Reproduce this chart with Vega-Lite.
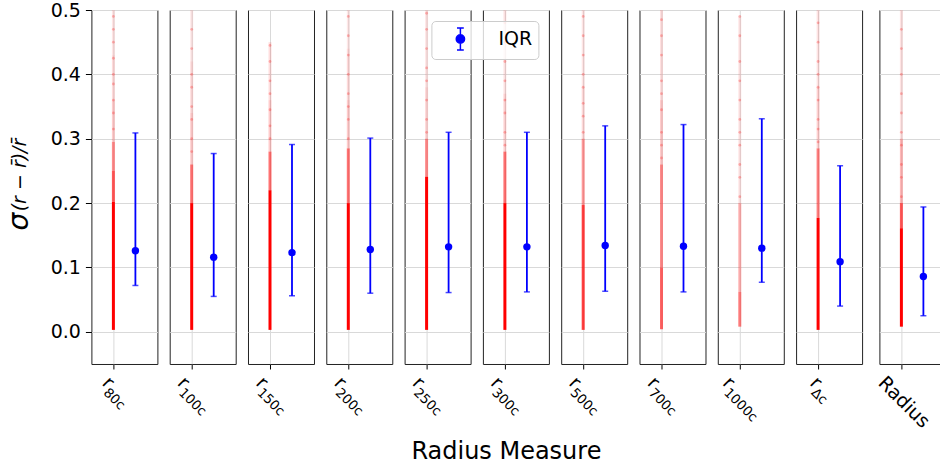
{
"$schema":"https://vega.github.io/schema/vega-lite/v6.json",
"background":"white",
"padding":{"left":4.4,"top":0,"right":0,"bottom":4},
"spacing":10.3,
"title":{"text":"Radius Measure","orient":"bottom","anchor":"middle","frame":"bounds","fontSize":24,"fontWeight":"normal","font":"DejaVu Sans","color":"#000000","dx":31,"offset":8},
"datasets":{
"strip":[
{"m":"r80c","pos":0,"lo":0.003,"hi":0.202,"dens":1},{"m":"r80c","pos":0,"lo":0.202,"hi":0.25,"dens":0.65},{"m":"r80c","pos":0,"lo":0.25,"hi":0.295,"dens":0.45},{"m":"r80c","pos":0,"lo":0.295,"hi":0.36,"dens":0.2},{"m":"r80c","pos":0,"lo":0.36,"hi":0.43,"dens":0.14},{"m":"r80c","pos":0,"lo":0.43,"hi":0.5,"dens":0.1},
{"m":"r100c","pos":0,"lo":0.003,"hi":0.2,"dens":1},{"m":"r100c","pos":0,"lo":0.2,"hi":0.26,"dens":0.55},{"m":"r100c","pos":0,"lo":0.26,"hi":0.34,"dens":0.2},{"m":"r100c","pos":0,"lo":0.34,"hi":0.42,"dens":0.14},{"m":"r100c","pos":0,"lo":0.42,"hi":0.5,"dens":0.09},
{"m":"r150c","pos":0,"lo":0.003,"hi":0.22,"dens":1},{"m":"r150c","pos":0,"lo":0.22,"hi":0.28,"dens":0.55},{"m":"r150c","pos":0,"lo":0.28,"hi":0.36,"dens":0.2},{"m":"r150c","pos":0,"lo":0.36,"hi":0.45,"dens":0.13},
{"m":"r200c","pos":0,"lo":0.003,"hi":0.2,"dens":1},{"m":"r200c","pos":0,"lo":0.2,"hi":0.285,"dens":0.55},{"m":"r200c","pos":0,"lo":0.285,"hi":0.36,"dens":0.2},{"m":"r200c","pos":0,"lo":0.36,"hi":0.44,"dens":0.14},{"m":"r200c","pos":0,"lo":0.44,"hi":0.5,"dens":0.09},
{"m":"r250c","pos":0,"lo":0.003,"hi":0.241,"dens":1},{"m":"r250c","pos":0,"lo":0.241,"hi":0.3,"dens":0.45},{"m":"r250c","pos":0,"lo":0.3,"hi":0.38,"dens":0.16},{"m":"r250c","pos":0,"lo":0.38,"hi":0.5,"dens":0.1},
{"m":"r300c","pos":0,"lo":0.003,"hi":0.2,"dens":1},{"m":"r300c","pos":0,"lo":0.2,"hi":0.28,"dens":0.55},{"m":"r300c","pos":0,"lo":0.28,"hi":0.37,"dens":0.17},{"m":"r300c","pos":0,"lo":0.37,"hi":0.5,"dens":0.1},
{"m":"r500c","pos":0,"lo":0.003,"hi":0.197,"dens":0.75},{"m":"r500c","pos":0,"lo":0.197,"hi":0.3,"dens":0.4},{"m":"r500c","pos":0,"lo":0.3,"hi":0.38,"dens":0.15},{"m":"r500c","pos":0,"lo":0.38,"hi":0.5,"dens":0.1},
{"m":"r700c","pos":0,"lo":0.004,"hi":0.1,"dens":0.6},{"m":"r700c","pos":0,"lo":0.1,"hi":0.26,"dens":0.45},{"m":"r700c","pos":0,"lo":0.26,"hi":0.36,"dens":0.2},{"m":"r700c","pos":0,"lo":0.36,"hi":0.5,"dens":0.12},
{"m":"r1000c","pos":0,"lo":0.008,"hi":0.062,"dens":0.5},{"m":"r1000c","pos":0,"lo":0.062,"hi":0.2,"dens":0.3},{"m":"r1000c","pos":0,"lo":0.2,"hi":0.49,"dens":0.1},
{"m":"rDc","pos":0,"lo":0.003,"hi":0.177,"dens":1},{"m":"rDc","pos":0,"lo":0.177,"hi":0.285,"dens":0.5},{"m":"rDc","pos":0,"lo":0.285,"hi":0.38,"dens":0.18},{"m":"rDc","pos":0,"lo":0.38,"hi":0.5,"dens":0.11},
{"m":"Radius","pos":0,"lo":0.008,"hi":0.161,"dens":1},{"m":"Radius","pos":0,"lo":0.161,"hi":0.2,"dens":0.65},{"m":"Radius","pos":0,"lo":0.2,"hi":0.3,"dens":0.28},{"m":"Radius","pos":0,"lo":0.3,"hi":0.5,"dens":0.11}
],
"dots":[
{"m":"r80c","pos":0,"v":0.315},{"m":"r80c","pos":0,"v":0.34},{"m":"r80c","pos":0,"v":0.36},{"m":"r80c","pos":0,"v":0.385},{"m":"r80c","pos":0,"v":0.4},{"m":"r80c","pos":0,"v":0.425},{"m":"r80c","pos":0,"v":0.45},{"m":"r80c","pos":0,"v":0.47},{"m":"r80c","pos":0,"v":0.49},
{"m":"r100c","pos":0,"v":0.28},{"m":"r100c","pos":0,"v":0.3},{"m":"r100c","pos":0,"v":0.33},{"m":"r100c","pos":0,"v":0.35},{"m":"r100c","pos":0,"v":0.38},{"m":"r100c","pos":0,"v":0.4},{"m":"r100c","pos":0,"v":0.44},{"m":"r100c","pos":0,"v":0.47},
{"m":"r150c","pos":0,"v":0.3},{"m":"r150c","pos":0,"v":0.32},{"m":"r150c","pos":0,"v":0.345},{"m":"r150c","pos":0,"v":0.37},{"m":"r150c","pos":0,"v":0.39},{"m":"r150c","pos":0,"v":0.42},{"m":"r150c","pos":0,"v":0.445},
{"m":"r200c","pos":0,"v":0.3},{"m":"r200c","pos":0,"v":0.33},{"m":"r200c","pos":0,"v":0.35},{"m":"r200c","pos":0,"v":0.37},{"m":"r200c","pos":0,"v":0.4},{"m":"r200c","pos":0,"v":0.43},{"m":"r200c","pos":0,"v":0.46},{"m":"r200c","pos":0,"v":0.49},
{"m":"r250c","pos":0,"v":0.31},{"m":"r250c","pos":0,"v":0.33},{"m":"r250c","pos":0,"v":0.36},{"m":"r250c","pos":0,"v":0.39},{"m":"r250c","pos":0,"v":0.41},{"m":"r250c","pos":0,"v":0.44},{"m":"r250c","pos":0,"v":0.47},{"m":"r250c","pos":0,"v":0.495},
{"m":"r300c","pos":0,"v":0.29},{"m":"r300c","pos":0,"v":0.31},{"m":"r300c","pos":0,"v":0.34},{"m":"r300c","pos":0,"v":0.36},{"m":"r300c","pos":0,"v":0.39},{"m":"r300c","pos":0,"v":0.42},{"m":"r300c","pos":0,"v":0.45},{"m":"r300c","pos":0,"v":0.48},
{"m":"r500c","pos":0,"v":0.31},{"m":"r500c","pos":0,"v":0.335},{"m":"r500c","pos":0,"v":0.355},{"m":"r500c","pos":0,"v":0.38},{"m":"r500c","pos":0,"v":0.4},{"m":"r500c","pos":0,"v":0.43},{"m":"r500c","pos":0,"v":0.46},{"m":"r500c","pos":0,"v":0.49},
{"m":"r700c","pos":0,"v":0.27},{"m":"r700c","pos":0,"v":0.29},{"m":"r700c","pos":0,"v":0.31},{"m":"r700c","pos":0,"v":0.345},{"m":"r700c","pos":0,"v":0.37},{"m":"r700c","pos":0,"v":0.39},{"m":"r700c","pos":0,"v":0.43},{"m":"r700c","pos":0,"v":0.46},{"m":"r700c","pos":0,"v":0.485},
{"m":"r1000c","pos":0,"v":0.21},{"m":"r1000c","pos":0,"v":0.24},{"m":"r1000c","pos":0,"v":0.26},{"m":"r1000c","pos":0,"v":0.29},{"m":"r1000c","pos":0,"v":0.31},{"m":"r1000c","pos":0,"v":0.33},{"m":"r1000c","pos":0,"v":0.36},{"m":"r1000c","pos":0,"v":0.39},{"m":"r1000c","pos":0,"v":0.42},{"m":"r1000c","pos":0,"v":0.46},{"m":"r1000c","pos":0,"v":0.49},
{"m":"rDc","pos":0,"v":0.295},{"m":"rDc","pos":0,"v":0.315},{"m":"rDc","pos":0,"v":0.33},{"m":"rDc","pos":0,"v":0.36},{"m":"rDc","pos":0,"v":0.38},{"m":"rDc","pos":0,"v":0.4},{"m":"rDc","pos":0,"v":0.42},{"m":"rDc","pos":0,"v":0.45},{"m":"rDc","pos":0,"v":0.48},
{"m":"Radius","pos":0,"v":0.21},{"m":"Radius","pos":0,"v":0.24},{"m":"Radius","pos":0,"v":0.26},{"m":"Radius","pos":0,"v":0.29},{"m":"Radius","pos":0,"v":0.31},{"m":"Radius","pos":0,"v":0.34},{"m":"Radius","pos":0,"v":0.37},{"m":"Radius","pos":0,"v":0.4},{"m":"Radius","pos":0,"v":0.44},{"m":"Radius","pos":0,"v":0.47}
],
"iqr":[
{"m":"r80c","pos":1,"med":0.126,"q1":0.072,"q3":0.309,"s":"IQR"},
{"m":"r100c","pos":1,"med":0.116,"q1":0.055,"q3":0.277,"s":"IQR"},
{"m":"r150c","pos":1,"med":0.123,"q1":0.056,"q3":0.291,"s":"IQR"},
{"m":"r200c","pos":1,"med":0.128,"q1":0.06,"q3":0.301,"s":"IQR"},
{"m":"r250c","pos":1,"med":0.132,"q1":0.061,"q3":0.31,"s":"IQR"},
{"m":"r300c","pos":1,"med":0.132,"q1":0.062,"q3":0.31,"s":"IQR"},
{"m":"r500c","pos":1,"med":0.134,"q1":0.063,"q3":0.32,"s":"IQR"},
{"m":"r700c","pos":1,"med":0.133,"q1":0.062,"q3":0.322,"s":"IQR"},
{"m":"r1000c","pos":1,"med":0.13,"q1":0.077,"q3":0.331,"s":"IQR"},
{"m":"rDc","pos":1,"med":0.109,"q1":0.04,"q3":0.258,"s":"IQR"},
{"m":"Radius","pos":1,"med":0.086,"q1":0.025,"q3":0.194,"s":"IQR"}
]
},
"hconcat":[
{"width":66,"height":354,
 "encoding":{"x":{"field":"pos","type":"quantitative","scale":{"domain":[-1,2],"nice":false},"axis":{"values":[0],"labelExpr":"'r'","labelOffset":-2,"title":"80c","titleX":18.7}}},
 "resolve":{"axis":{"y":"independent"}},
 "layer":[
  {"data":{"name":"strip"},"transform":[{"filter":"datum.m==='r80c'"}],"mark":{"type":"rule","strokeWidth":3,"color":"#ff0000"},"encoding":{"y":{"field":"lo","type":"quantitative","scale":{"domain":[-0.05,0.5],"nice":false},"axis":{"values":[0,0.1,0.2,0.3,0.4,0.5],"format":".1f","labels":true,"ticks":true,"domain":false,"grid":true,"title":"σ","titleFontSize":28,"titleFontStyle":"italic","titleFontWeight":"normal","titleAngle":-90,"titleX":-72,"titleY":211,"titleAlign":"center","titleBaseline":"middle"}},"y2":{"field":"hi"},"opacity":{"field":"dens","type":"quantitative","scale":{"domain":[0,1],"range":[0,1]},"legend":null}}},
  {"data":{"name":"dots"},"transform":[{"filter":"datum.m==='r80c'"}],"mark":{"type":"circle","size":8,"color":"#ff0000","opacity":0.25},"encoding":{"y":{"field":"v","type":"quantitative","scale":{"domain":[-0.05,0.5],"nice":false},"axis":null}}},
  {"data":{"name":"iqr"},"transform":[{"filter":"datum.m==='r80c'"}],"mark":{"type":"errorbar","color":"#0000ff","ticks":{"size":6,"thickness":1.5,"color":"#0000ff"},"rule":{"strokeWidth":1.8,"color":"#0000ff"}},"encoding":{"y":{"field":"q1","type":"quantitative","scale":{"domain":[-0.05,0.5],"nice":false},"axis":null},"y2":{"field":"q3"}}},
  {"data":{"name":"iqr"},"transform":[{"filter":"datum.m==='r80c'"}],"mark":{"type":"circle","size":55,"opacity":1},"encoding":{"y":{"field":"med","type":"quantitative","scale":{"domain":[-0.05,0.5],"nice":false},"axis":{"orient":"right","minExtent":0,"maxExtent":0,"labels":false,"ticks":false,"domain":false,"grid":false,"title":"(r − r̄)/r̄","titleFontSize":19,"titleFontStyle":"italic","titleFontWeight":"normal","titleAngle":-90,"titleX":-138,"titleY":164.5,"titleAlign":"center","titleBaseline":"middle"}},
   "color":{"field":"s","type":"nominal","scale":{"range":["#0000ff"]},"legend":{"orient":"none","legendX":340,"legendY":11,"title":null,"symbolType":"M-0.31,-1L0.31,-1M0,-1L0,1M-0.31,1L0.31,1M-0.38,0A0.38,0.38,0,1,1,0.38,0A0.38,0.38,0,1,1,-0.38,0Z","symbolSize":480,"symbolFillColor":"#0000ff","symbolStrokeColor":"#0000ff","symbolStrokeWidth":1.5,"symbolOpacity":1,"labelFontSize":19,"labelFont":"DejaVu Sans","labelColor":"#000000","padding":6,"strokeColor":"#cccccc","fillColor":"rgba(255,255,255,0.8)","cornerRadius":4,"symbolOffset":11,"labelOffset":26}}}}
 ]},
{"width":66,"height":354,
 "encoding":{"x":{"field":"pos","type":"quantitative","scale":{"domain":[-1,2],"nice":false},"axis":{"values":[0],"labelExpr":"'r'","labelOffset":-5,"title":"100c","titleX":15.7}}},
 "resolve":{"axis":{"y":"independent"}},
 "layer":[
  {"data":{"name":"strip"},"transform":[{"filter":"datum.m==='r100c'"}],"mark":{"type":"rule","strokeWidth":3,"color":"#ff0000"},"encoding":{"y":{"field":"lo","type":"quantitative","scale":{"domain":[-0.05,0.5],"nice":false},"axis":{"values":[0,0.1,0.2,0.3,0.4,0.5],"labels":false,"ticks":false,"domain":false,"grid":true,"title":null,"minExtent":0,"maxExtent":0,"labelPadding":0}},"y2":{"field":"hi"},"opacity":{"field":"dens","type":"quantitative","scale":{"domain":[0,1],"range":[0,1]},"legend":null}}},
  {"data":{"name":"dots"},"transform":[{"filter":"datum.m==='r100c'"}],"mark":{"type":"circle","size":8,"color":"#ff0000","opacity":0.25},"encoding":{"y":{"field":"v","type":"quantitative","scale":{"domain":[-0.05,0.5],"nice":false},"axis":null}}},
  {"data":{"name":"iqr"},"transform":[{"filter":"datum.m==='r100c'"}],"mark":{"type":"errorbar","color":"#0000ff","ticks":{"size":6,"thickness":1.5,"color":"#0000ff"},"rule":{"strokeWidth":1.8,"color":"#0000ff"}},"encoding":{"y":{"field":"q1","type":"quantitative","scale":{"domain":[-0.05,0.5],"nice":false},"axis":null},"y2":{"field":"q3"}}},
  {"data":{"name":"iqr"},"transform":[{"filter":"datum.m==='r100c'"}],"mark":{"type":"circle","size":55,"color":"#0000ff","opacity":1},"encoding":{"y":{"field":"med","type":"quantitative","scale":{"domain":[-0.05,0.5],"nice":false},"axis":null}}}
 ]},
{"width":66,"height":354,
 "encoding":{"x":{"field":"pos","type":"quantitative","scale":{"domain":[-1,2],"nice":false},"axis":{"values":[0],"labelExpr":"'r'","labelOffset":-5,"title":"150c","titleX":15.7}}},
 "resolve":{"axis":{"y":"independent"}},
 "layer":[
  {"data":{"name":"strip"},"transform":[{"filter":"datum.m==='r150c'"}],"mark":{"type":"rule","strokeWidth":3,"color":"#ff0000"},"encoding":{"y":{"field":"lo","type":"quantitative","scale":{"domain":[-0.05,0.5],"nice":false},"axis":{"values":[0,0.1,0.2,0.3,0.4,0.5],"labels":false,"ticks":false,"domain":false,"grid":true,"title":null,"minExtent":0,"maxExtent":0,"labelPadding":0}},"y2":{"field":"hi"},"opacity":{"field":"dens","type":"quantitative","scale":{"domain":[0,1],"range":[0,1]},"legend":null}}},
  {"data":{"name":"dots"},"transform":[{"filter":"datum.m==='r150c'"}],"mark":{"type":"circle","size":8,"color":"#ff0000","opacity":0.25},"encoding":{"y":{"field":"v","type":"quantitative","scale":{"domain":[-0.05,0.5],"nice":false},"axis":null}}},
  {"data":{"name":"iqr"},"transform":[{"filter":"datum.m==='r150c'"}],"mark":{"type":"errorbar","color":"#0000ff","ticks":{"size":6,"thickness":1.5,"color":"#0000ff"},"rule":{"strokeWidth":1.8,"color":"#0000ff"}},"encoding":{"y":{"field":"q1","type":"quantitative","scale":{"domain":[-0.05,0.5],"nice":false},"axis":null},"y2":{"field":"q3"}}},
  {"data":{"name":"iqr"},"transform":[{"filter":"datum.m==='r150c'"}],"mark":{"type":"circle","size":55,"color":"#0000ff","opacity":1},"encoding":{"y":{"field":"med","type":"quantitative","scale":{"domain":[-0.05,0.5],"nice":false},"axis":null}}}
 ]},
{"width":66,"height":354,
 "encoding":{"x":{"field":"pos","type":"quantitative","scale":{"domain":[-1,2],"nice":false},"axis":{"values":[0],"labelExpr":"'r'","labelOffset":-5,"title":"200c","titleX":15.7}}},
 "resolve":{"axis":{"y":"independent"}},
 "layer":[
  {"data":{"name":"strip"},"transform":[{"filter":"datum.m==='r200c'"}],"mark":{"type":"rule","strokeWidth":3,"color":"#ff0000"},"encoding":{"y":{"field":"lo","type":"quantitative","scale":{"domain":[-0.05,0.5],"nice":false},"axis":{"values":[0,0.1,0.2,0.3,0.4,0.5],"labels":false,"ticks":false,"domain":false,"grid":true,"title":null,"minExtent":0,"maxExtent":0,"labelPadding":0}},"y2":{"field":"hi"},"opacity":{"field":"dens","type":"quantitative","scale":{"domain":[0,1],"range":[0,1]},"legend":null}}},
  {"data":{"name":"dots"},"transform":[{"filter":"datum.m==='r200c'"}],"mark":{"type":"circle","size":8,"color":"#ff0000","opacity":0.25},"encoding":{"y":{"field":"v","type":"quantitative","scale":{"domain":[-0.05,0.5],"nice":false},"axis":null}}},
  {"data":{"name":"iqr"},"transform":[{"filter":"datum.m==='r200c'"}],"mark":{"type":"errorbar","color":"#0000ff","ticks":{"size":6,"thickness":1.5,"color":"#0000ff"},"rule":{"strokeWidth":1.8,"color":"#0000ff"}},"encoding":{"y":{"field":"q1","type":"quantitative","scale":{"domain":[-0.05,0.5],"nice":false},"axis":null},"y2":{"field":"q3"}}},
  {"data":{"name":"iqr"},"transform":[{"filter":"datum.m==='r200c'"}],"mark":{"type":"circle","size":55,"color":"#0000ff","opacity":1},"encoding":{"y":{"field":"med","type":"quantitative","scale":{"domain":[-0.05,0.5],"nice":false},"axis":null}}}
 ]},
{"width":66,"height":354,
 "encoding":{"x":{"field":"pos","type":"quantitative","scale":{"domain":[-1,2],"nice":false},"axis":{"values":[0],"labelExpr":"'r'","labelOffset":-5,"title":"250c","titleX":15.7}}},
 "resolve":{"axis":{"y":"independent"}},
 "layer":[
  {"data":{"name":"strip"},"transform":[{"filter":"datum.m==='r250c'"}],"mark":{"type":"rule","strokeWidth":3,"color":"#ff0000"},"encoding":{"y":{"field":"lo","type":"quantitative","scale":{"domain":[-0.05,0.5],"nice":false},"axis":{"values":[0,0.1,0.2,0.3,0.4,0.5],"labels":false,"ticks":false,"domain":false,"grid":true,"title":null,"minExtent":0,"maxExtent":0,"labelPadding":0}},"y2":{"field":"hi"},"opacity":{"field":"dens","type":"quantitative","scale":{"domain":[0,1],"range":[0,1]},"legend":null}}},
  {"data":{"name":"dots"},"transform":[{"filter":"datum.m==='r250c'"}],"mark":{"type":"circle","size":8,"color":"#ff0000","opacity":0.25},"encoding":{"y":{"field":"v","type":"quantitative","scale":{"domain":[-0.05,0.5],"nice":false},"axis":null}}},
  {"data":{"name":"iqr"},"transform":[{"filter":"datum.m==='r250c'"}],"mark":{"type":"errorbar","color":"#0000ff","ticks":{"size":6,"thickness":1.5,"color":"#0000ff"},"rule":{"strokeWidth":1.8,"color":"#0000ff"}},"encoding":{"y":{"field":"q1","type":"quantitative","scale":{"domain":[-0.05,0.5],"nice":false},"axis":null},"y2":{"field":"q3"}}},
  {"data":{"name":"iqr"},"transform":[{"filter":"datum.m==='r250c'"}],"mark":{"type":"circle","size":55,"color":"#0000ff","opacity":1},"encoding":{"y":{"field":"med","type":"quantitative","scale":{"domain":[-0.05,0.5],"nice":false},"axis":null}}}
 ]},
{"width":66,"height":354,
 "encoding":{"x":{"field":"pos","type":"quantitative","scale":{"domain":[-1,2],"nice":false},"axis":{"values":[0],"labelExpr":"'r'","labelOffset":-5,"title":"300c","titleX":15.7}}},
 "resolve":{"axis":{"y":"independent"}},
 "layer":[
  {"data":{"name":"strip"},"transform":[{"filter":"datum.m==='r300c'"}],"mark":{"type":"rule","strokeWidth":3,"color":"#ff0000"},"encoding":{"y":{"field":"lo","type":"quantitative","scale":{"domain":[-0.05,0.5],"nice":false},"axis":{"values":[0,0.1,0.2,0.3,0.4,0.5],"labels":false,"ticks":false,"domain":false,"grid":true,"title":null,"minExtent":0,"maxExtent":0,"labelPadding":0}},"y2":{"field":"hi"},"opacity":{"field":"dens","type":"quantitative","scale":{"domain":[0,1],"range":[0,1]},"legend":null}}},
  {"data":{"name":"dots"},"transform":[{"filter":"datum.m==='r300c'"}],"mark":{"type":"circle","size":8,"color":"#ff0000","opacity":0.25},"encoding":{"y":{"field":"v","type":"quantitative","scale":{"domain":[-0.05,0.5],"nice":false},"axis":null}}},
  {"data":{"name":"iqr"},"transform":[{"filter":"datum.m==='r300c'"}],"mark":{"type":"errorbar","color":"#0000ff","ticks":{"size":6,"thickness":1.5,"color":"#0000ff"},"rule":{"strokeWidth":1.8,"color":"#0000ff"}},"encoding":{"y":{"field":"q1","type":"quantitative","scale":{"domain":[-0.05,0.5],"nice":false},"axis":null},"y2":{"field":"q3"}}},
  {"data":{"name":"iqr"},"transform":[{"filter":"datum.m==='r300c'"}],"mark":{"type":"circle","size":55,"color":"#0000ff","opacity":1},"encoding":{"y":{"field":"med","type":"quantitative","scale":{"domain":[-0.05,0.5],"nice":false},"axis":null}}}
 ]},
{"width":66,"height":354,
 "encoding":{"x":{"field":"pos","type":"quantitative","scale":{"domain":[-1,2],"nice":false},"axis":{"values":[0],"labelExpr":"'r'","labelOffset":-5,"title":"500c","titleX":15.7}}},
 "resolve":{"axis":{"y":"independent"}},
 "layer":[
  {"data":{"name":"strip"},"transform":[{"filter":"datum.m==='r500c'"}],"mark":{"type":"rule","strokeWidth":3,"color":"#ff0000"},"encoding":{"y":{"field":"lo","type":"quantitative","scale":{"domain":[-0.05,0.5],"nice":false},"axis":{"values":[0,0.1,0.2,0.3,0.4,0.5],"labels":false,"ticks":false,"domain":false,"grid":true,"title":null,"minExtent":0,"maxExtent":0,"labelPadding":0}},"y2":{"field":"hi"},"opacity":{"field":"dens","type":"quantitative","scale":{"domain":[0,1],"range":[0,1]},"legend":null}}},
  {"data":{"name":"dots"},"transform":[{"filter":"datum.m==='r500c'"}],"mark":{"type":"circle","size":8,"color":"#ff0000","opacity":0.25},"encoding":{"y":{"field":"v","type":"quantitative","scale":{"domain":[-0.05,0.5],"nice":false},"axis":null}}},
  {"data":{"name":"iqr"},"transform":[{"filter":"datum.m==='r500c'"}],"mark":{"type":"errorbar","color":"#0000ff","ticks":{"size":6,"thickness":1.5,"color":"#0000ff"},"rule":{"strokeWidth":1.8,"color":"#0000ff"}},"encoding":{"y":{"field":"q1","type":"quantitative","scale":{"domain":[-0.05,0.5],"nice":false},"axis":null},"y2":{"field":"q3"}}},
  {"data":{"name":"iqr"},"transform":[{"filter":"datum.m==='r500c'"}],"mark":{"type":"circle","size":55,"color":"#0000ff","opacity":1},"encoding":{"y":{"field":"med","type":"quantitative","scale":{"domain":[-0.05,0.5],"nice":false},"axis":null}}}
 ]},
{"width":66,"height":354,
 "encoding":{"x":{"field":"pos","type":"quantitative","scale":{"domain":[-1,2],"nice":false},"axis":{"values":[0],"labelExpr":"'r'","labelOffset":-5,"title":"700c","titleX":15.7}}},
 "resolve":{"axis":{"y":"independent"}},
 "layer":[
  {"data":{"name":"strip"},"transform":[{"filter":"datum.m==='r700c'"}],"mark":{"type":"rule","strokeWidth":3,"color":"#ff0000"},"encoding":{"y":{"field":"lo","type":"quantitative","scale":{"domain":[-0.05,0.5],"nice":false},"axis":{"values":[0,0.1,0.2,0.3,0.4,0.5],"labels":false,"ticks":false,"domain":false,"grid":true,"title":null,"minExtent":0,"maxExtent":0,"labelPadding":0}},"y2":{"field":"hi"},"opacity":{"field":"dens","type":"quantitative","scale":{"domain":[0,1],"range":[0,1]},"legend":null}}},
  {"data":{"name":"dots"},"transform":[{"filter":"datum.m==='r700c'"}],"mark":{"type":"circle","size":8,"color":"#ff0000","opacity":0.25},"encoding":{"y":{"field":"v","type":"quantitative","scale":{"domain":[-0.05,0.5],"nice":false},"axis":null}}},
  {"data":{"name":"iqr"},"transform":[{"filter":"datum.m==='r700c'"}],"mark":{"type":"errorbar","color":"#0000ff","ticks":{"size":6,"thickness":1.5,"color":"#0000ff"},"rule":{"strokeWidth":1.8,"color":"#0000ff"}},"encoding":{"y":{"field":"q1","type":"quantitative","scale":{"domain":[-0.05,0.5],"nice":false},"axis":null},"y2":{"field":"q3"}}},
  {"data":{"name":"iqr"},"transform":[{"filter":"datum.m==='r700c'"}],"mark":{"type":"circle","size":55,"color":"#0000ff","opacity":1},"encoding":{"y":{"field":"med","type":"quantitative","scale":{"domain":[-0.05,0.5],"nice":false},"axis":null}}}
 ]},
{"width":66,"height":354,
 "encoding":{"x":{"field":"pos","type":"quantitative","scale":{"domain":[-1,2],"nice":false},"axis":{"values":[0],"labelExpr":"'r'","labelOffset":-8,"title":"1000c","titleX":12.7}}},
 "resolve":{"axis":{"y":"independent"}},
 "layer":[
  {"data":{"name":"strip"},"transform":[{"filter":"datum.m==='r1000c'"}],"mark":{"type":"rule","strokeWidth":3,"color":"#ff0000"},"encoding":{"y":{"field":"lo","type":"quantitative","scale":{"domain":[-0.05,0.5],"nice":false},"axis":{"values":[0,0.1,0.2,0.3,0.4,0.5],"labels":false,"ticks":false,"domain":false,"grid":true,"title":null,"minExtent":0,"maxExtent":0,"labelPadding":0}},"y2":{"field":"hi"},"opacity":{"field":"dens","type":"quantitative","scale":{"domain":[0,1],"range":[0,1]},"legend":null}}},
  {"data":{"name":"dots"},"transform":[{"filter":"datum.m==='r1000c'"}],"mark":{"type":"circle","size":8,"color":"#ff0000","opacity":0.25},"encoding":{"y":{"field":"v","type":"quantitative","scale":{"domain":[-0.05,0.5],"nice":false},"axis":null}}},
  {"data":{"name":"iqr"},"transform":[{"filter":"datum.m==='r1000c'"}],"mark":{"type":"errorbar","color":"#0000ff","ticks":{"size":6,"thickness":1.5,"color":"#0000ff"},"rule":{"strokeWidth":1.8,"color":"#0000ff"}},"encoding":{"y":{"field":"q1","type":"quantitative","scale":{"domain":[-0.05,0.5],"nice":false},"axis":null},"y2":{"field":"q3"}}},
  {"data":{"name":"iqr"},"transform":[{"filter":"datum.m==='r1000c'"}],"mark":{"type":"circle","size":55,"color":"#0000ff","opacity":1},"encoding":{"y":{"field":"med","type":"quantitative","scale":{"domain":[-0.05,0.5],"nice":false},"axis":null}}}
 ]},
{"width":66,"height":354,
 "encoding":{"x":{"field":"pos","type":"quantitative","scale":{"domain":[-1,2],"nice":false},"axis":{"values":[0],"labelExpr":"'r'","labelOffset":1,"title":"Δc","titleX":21.7}}},
 "resolve":{"axis":{"y":"independent"}},
 "layer":[
  {"data":{"name":"strip"},"transform":[{"filter":"datum.m==='rDc'"}],"mark":{"type":"rule","strokeWidth":3,"color":"#ff0000"},"encoding":{"y":{"field":"lo","type":"quantitative","scale":{"domain":[-0.05,0.5],"nice":false},"axis":{"values":[0,0.1,0.2,0.3,0.4,0.5],"labels":false,"ticks":false,"domain":false,"grid":true,"title":null,"minExtent":0,"maxExtent":0,"labelPadding":0}},"y2":{"field":"hi"},"opacity":{"field":"dens","type":"quantitative","scale":{"domain":[0,1],"range":[0,1]},"legend":null}}},
  {"data":{"name":"dots"},"transform":[{"filter":"datum.m==='rDc'"}],"mark":{"type":"circle","size":8,"color":"#ff0000","opacity":0.25},"encoding":{"y":{"field":"v","type":"quantitative","scale":{"domain":[-0.05,0.5],"nice":false},"axis":null}}},
  {"data":{"name":"iqr"},"transform":[{"filter":"datum.m==='rDc'"}],"mark":{"type":"errorbar","color":"#0000ff","ticks":{"size":6,"thickness":1.5,"color":"#0000ff"},"rule":{"strokeWidth":1.8,"color":"#0000ff"}},"encoding":{"y":{"field":"q1","type":"quantitative","scale":{"domain":[-0.05,0.5],"nice":false},"axis":null},"y2":{"field":"q3"}}},
  {"data":{"name":"iqr"},"transform":[{"filter":"datum.m==='rDc'"}],"mark":{"type":"circle","size":55,"color":"#0000ff","opacity":1},"encoding":{"y":{"field":"med","type":"quantitative","scale":{"domain":[-0.05,0.5],"nice":false},"axis":null}}}
 ]},
{"width":66,"height":354,
 "encoding":{"x":{"field":"pos","type":"quantitative","scale":{"domain":[-1,2],"nice":false},"axis":{"values":[0],"labelExpr":"'Radius'","labelOffset":-14,"title":null}}},
 "resolve":{"axis":{"y":"independent"}},
 "layer":[
  {"data":{"name":"strip"},"transform":[{"filter":"datum.m==='Radius'"}],"mark":{"type":"rule","strokeWidth":3,"color":"#ff0000"},"encoding":{"y":{"field":"lo","type":"quantitative","scale":{"domain":[-0.05,0.5],"nice":false},"axis":{"values":[0,0.1,0.2,0.3,0.4,0.5],"labels":false,"ticks":false,"domain":false,"grid":true,"title":null,"minExtent":0,"maxExtent":0,"labelPadding":0}},"y2":{"field":"hi"},"opacity":{"field":"dens","type":"quantitative","scale":{"domain":[0,1],"range":[0,1]},"legend":null}}},
  {"data":{"name":"dots"},"transform":[{"filter":"datum.m==='Radius'"}],"mark":{"type":"circle","size":8,"color":"#ff0000","opacity":0.25},"encoding":{"y":{"field":"v","type":"quantitative","scale":{"domain":[-0.05,0.5],"nice":false},"axis":null}}},
  {"data":{"name":"iqr"},"transform":[{"filter":"datum.m==='Radius'"}],"mark":{"type":"errorbar","color":"#0000ff","ticks":{"size":6,"thickness":1.5,"color":"#0000ff"},"rule":{"strokeWidth":1.8,"color":"#0000ff"}},"encoding":{"y":{"field":"q1","type":"quantitative","scale":{"domain":[-0.05,0.5],"nice":false},"axis":null},"y2":{"field":"q3"}}},
  {"data":{"name":"iqr"},"transform":[{"filter":"datum.m==='Radius'"}],"mark":{"type":"circle","size":55,"color":"#0000ff","opacity":1},"encoding":{"y":{"field":"med","type":"quantitative","scale":{"domain":[-0.05,0.5],"nice":false},"axis":null}}}
 ]}
],
"config":{
 "font":"DejaVu Sans",
 "view":{"stroke":"#222222","strokeWidth":1},
 "axis":{"gridColor":"#d9d9d9","gridWidth":1,"labelColor":"#000000","titleColor":"#000000","labelFont":"DejaVu Sans","titleFont":"DejaVu Sans"},
 "axisX":{"labelAngle":45,"labelAlign":"left","labelBaseline":"top","labelPadding":4,"labelFontSize":19,"tickSize":5,"tickColor":"#000000","domain":false,"grid":true,"titleAngle":45,"titleAlign":"left","titleBaseline":"top","titleY":21.1,"titleFontSize":13.3,"titleFontWeight":"normal"},
 "axisY":{"labelFontSize":19,"tickSize":6,"tickColor":"#000000","labelPadding":5}
}
}
